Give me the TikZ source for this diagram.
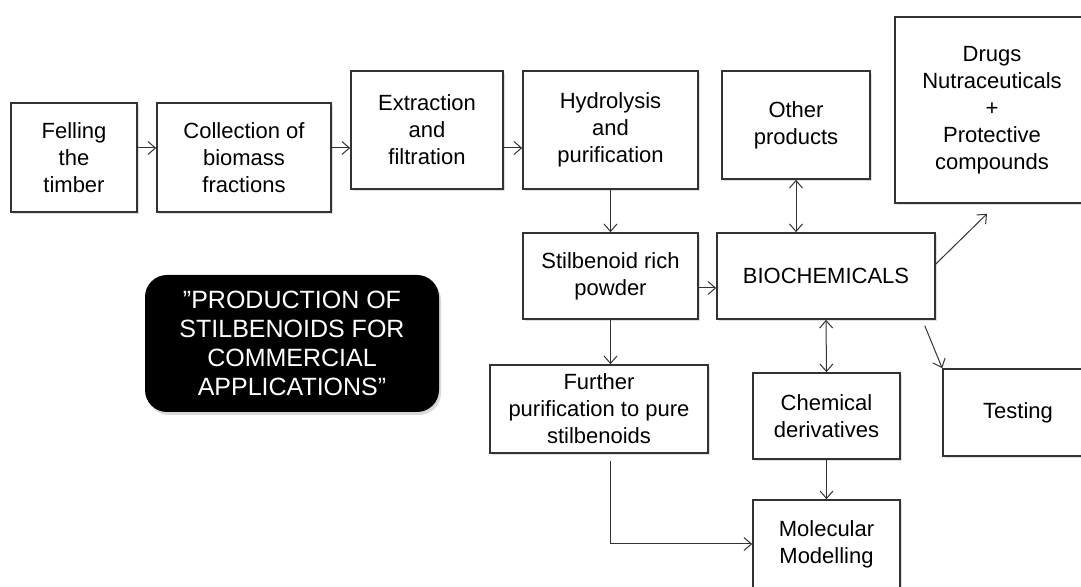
\documentclass[tikz,border=0pt]{standalone}
\usepackage{fontspec}
\setmainfont{Liberation Sans}
\usepackage{tikz}
\usetikzlibrary{positioning,arrows.meta,calc,shadows}

\begin{document}
\begin{tikzpicture}[
  x=1pt,y=1pt,
  >={Straight Barb[length=7.5pt,width=13pt]},
  stage/.style={draw=black!80,line width=1.6pt,fill=white,align=center,inner sep=0pt,
                font=\fontsize{22}{27}\selectfont,
                drop shadow={shadow xshift=2pt,shadow yshift=-2.5pt,opacity=.25}},
  title/.style={fill=black,rounded corners=22pt,text=white,align=center,inner sep=0pt,
                font=\fontsize{25}{29}\selectfont,minimum width=294pt,minimum height=137pt,
                drop shadow={shadow xshift=2pt,shadow yshift=-3pt,opacity=.3}},
  arr/.style={->,draw=black!80,line width=1pt},
  dbl/.style={<->,draw=black!80,line width=1pt},
]
  \useasboundingbox (0,0) rectangle (1081,586);

  % main chain along the top
  \node[stage,minimum width=126pt,minimum height=109pt] (felling) at (74,428.5) {Felling\\the\\timber};
  \node[stage,minimum width=174pt,minimum height=109pt] (collect) at (244,428.5) {Collection of\\biomass\\fractions};
  \node[stage,minimum width=152pt,minimum height=118pt] (extract) at (427,456) {Extraction\\and\\filtration};
  \node[stage,minimum width=175pt,minimum height=118pt] (hydro)   at (610.5,456) {Hydrolysis\\and\\purification};
  \node[stage,minimum width=148pt,minimum height=108pt] (other)   at (796,461) {Other\\products};
  \node[stage,minimum width=194pt,minimum height=186pt] (drugs)   at (992,476) {Drugs\\Nutraceuticals\\+\\Protective\\compounds};

  % middle and lower rows
  \node[stage,minimum width=175pt,minimum height=86pt] (stilb)   at (610.5,310) {Stilbenoid rich\\powder};
  \node[stage,minimum width=218pt,minimum height=86pt] (bio)     at (826,310) {BIOCHEMICALS};
  \node[stage,minimum width=218pt,minimum height=88pt] (further) at (599,177) {Further\\purification to pure\\stilbenoids};
  \node[stage,minimum width=147pt,minimum height=86pt] (chem)    at (826.5,170) {Chemical\\derivatives};
  \node[stage,minimum width=150pt,minimum height=87pt] (testing) at (1018,173.5) {Testing};
  \node[stage,minimum width=147pt,minimum height=88pt] (molec)   at (826.5,42) {Molecular\\Modelling};

  \node[title] (banner) at (292,242.5) {”PRODUCTION OF\\STILBENOIDS FOR\\COMMERCIAL\\APPLICATIONS”};

  \coordinate (row) at (0,438);

  \draw[arr] (felling.east |- row) -- (collect.west |- row);
  \draw[arr] (collect.east |- row) -- (extract.west |- row);
  \draw[arr] (extract.east |- row) -- (hydro.west |- row);
  \draw[arr] (hydro.south) -- (stilb.north);
  \draw[dbl] (other.south) -- (other.south |- bio.north);
  \draw[arr] ([yshift=-12pt]stilb.east) -- ([yshift=-12pt]bio.west);
  \draw[arr] ([yshift=12pt]bio.east) -- ([shift={(-5pt,-10pt)}]drugs.south);
  \draw[arr] ([shift={(-11pt,-6pt)}]bio.south east) -- (testing.north west);
  \draw[dbl] (bio.south) -- (chem.north);
  \draw[arr] (stilb.south) -- (stilb.south |- further.north);
  \draw[arr] ([yshift=-7pt]further.south -| stilb.south) |- (molec.west);
  \draw[arr] (chem.south) -- (molec.north);
\end{tikzpicture}
\end{document}
